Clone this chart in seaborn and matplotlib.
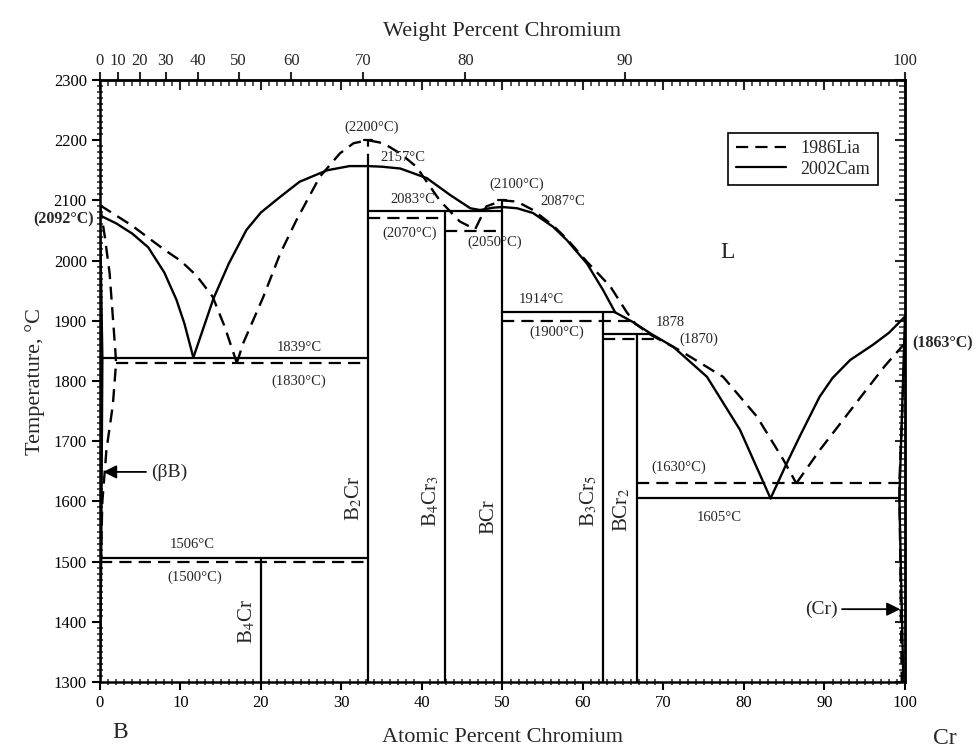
import numpy as np
import matplotlib
matplotlib.use("Agg")
import matplotlib.pyplot as plt
from matplotlib.lines import Line2D
from matplotlib.ticker import MultipleLocator
import seaborn as sns

# ---- data (at.% Cr, temperature in C) ----
# 2002Cam (solid lines)
cam_liq_b_x = [0, 2, 4, 6, 8, 9.5, 10.5, 11.6]
cam_liq_b_t = [2075, 2062, 2045, 2022, 1980, 1935, 1895, 1839]
cam_dome_x = [11.6, 14.1, 16, 18.2, 20, 22.4, 24.8, 28.2, 31, 33.3, 35, 37.3, 40.6,
              43.5, 46, 47.2, 48.9, 50, 51.8, 53.8, 56.3, 58, 60.5, 62.5, 64]
cam_dome_t = [1839, 1937, 1995, 2051, 2080, 2106, 2131, 2150, 2157, 2157, 2156, 2153, 2137,
              2109, 2087, 2084, 2088, 2089, 2087, 2079, 2056, 2034, 1995, 1951, 1914]
cam_liq_mid_x = [64, 66.2, 68.5, 71.2, 75.4, 79.5, 83.3]
cam_liq_mid_t = [1914, 1898, 1878, 1857, 1807, 1719, 1605]
cam_liq_cr_x = [83.3, 85.3, 87, 89.4, 91, 93.2, 96, 98, 100]
cam_liq_cr_t = [1605, 1663, 1710, 1774, 1805, 1835, 1860, 1880, 1907]
cam_bsolv_x = [0, 0.3, 0.15, 0]
cam_bsolv_t = [2075, 1839, 1506, 1300]
cam_crsolv_x = [100, 99.3, 99.8]
cam_crsolv_t = [1907, 1605, 1300]
cam_iso_t = [1839, 1506, 2083, 1914, 1878, 1605]
cam_iso_x0 = [0.3, 0, 33.33, 50, 62.5, 66.67]
cam_iso_x1 = [33.33, 33.33, 50, 64, 68.5, 99.3]

# 1986Lia (dashed lines)
lia_liq_b_x = [0, 4, 8, 10, 12, 14, 15.5, 17]
lia_liq_b_t = [2092, 2058, 2018, 2000, 1975, 1940, 1890, 1830]
lia_dome_x = [17, 17.8, 20.3, 22.4, 24.4, 27.3, 29.8, 31.5, 33.3, 35.2, 37.3, 39.3,
              42.2, 44.7, 46.6, 48, 50, 51.8, 53.8, 56.3, 58, 60.5, 63.4, 65.4,
              66.5, 68.5, 72, 77.4, 81.6, 84.9, 86.5]
lia_dome_t = [1830, 1863, 1940, 2012, 2067, 2139, 2178, 2195, 2200, 2195, 2178, 2156,
              2100, 2065, 2052, 2090, 2100, 2098, 2084, 2058, 2036, 1998, 1957, 1915,
              1895, 1876, 1851, 1807, 1741, 1669, 1630]
lia_liq_cr_x = [86.5, 89.4, 92, 95, 97.5, 100]
lia_liq_cr_t = [1630, 1685, 1730, 1782, 1825, 1863]
lia_bsolv_x = [0, 0.6, 1.2, 1.9, 2.0, 1.6, 0.8, 0.3, 0.1, 0]
lia_bsolv_t = [2092, 2040, 1979, 1852, 1830, 1760, 1685, 1600, 1500, 1300]
lia_crsolv_x = [100, 99.3, 99.6]
lia_crsolv_t = [1863, 1630, 1300]
lia_iso_t = [1830, 1500, 2070, 2050, 1900, 1870, 1630]
lia_iso_x0 = [2.0, 0, 33.33, 42.86, 50, 62.5, 66.67]
lia_iso_x1 = [33.33, 33.33, 42.86, 50, 65.8, 69, 99.3]
lia_max_x = [33.33, 50]
lia_max_lo = [2157, 2087]
lia_max_t = [2200, 2100]

# compounds
comp_names = [r"B$_4$Cr", r"B$_2$Cr", r"B$_4$Cr$_3$", "BCr", r"B$_3$Cr$_5$", r"BCr$_2$"]
comp_x = [20, 33.33, 42.86, 50, 62.5, 66.67]
comp_top = [1506, 2157, 2083, 2087, 1914, 1878]
comp_label_t = [1400, 1605, 1600, 1575, 1600, 1585]


def at2wt(x):
    x = np.asarray(x, dtype=float)
    return 100 * x * 52.0 / (x * 52.0 + (100 - x) * 10.81)


def wt2at(w):
    w = np.asarray(w, dtype=float)
    return 100 * (w / 52.0) / (w / 52.0 + (100 - w) / 10.81)


sns.set_style("ticks")
plt.rcParams['font.family'] = ['Liberation Serif', 'DejaVu Serif']
plt.rcParams['mathtext.fontset'] = 'stix'

fig = plt.figure(figsize=(9.79, 7.47), dpi=100)
ax = fig.add_axes([0.1021, 0.087, 0.8223, 0.8059])

SOLID = '-'
DASH = (0, (5.5, 3.2))


def draw(x, t, ls, lw=1.7):
    sns.lineplot(x=x, y=t, ax=ax, sort=False, estimator=None, color='black',
                 linewidth=lw, linestyle=ls)


for xs, ts in [(cam_liq_b_x, cam_liq_b_t), (cam_dome_x, cam_dome_t),
               (cam_liq_mid_x, cam_liq_mid_t), (cam_liq_cr_x, cam_liq_cr_t),
               (cam_bsolv_x, cam_bsolv_t), (cam_crsolv_x, cam_crsolv_t)]:
    draw(xs, ts, SOLID)
for xs, ts in [(lia_liq_b_x, lia_liq_b_t), (lia_dome_x, lia_dome_t),
               (lia_liq_cr_x, lia_liq_cr_t), (lia_bsolv_x, lia_bsolv_t),
               (lia_crsolv_x, lia_crsolv_t)]:
    draw(xs, ts, DASH)

for t, a, b in zip(cam_iso_t, cam_iso_x0, cam_iso_x1):
    draw([a, b], [t, t], SOLID, lw=1.6)
for t, a, b in zip(lia_iso_t, lia_iso_x0, lia_iso_x1):
    draw([a, b], [t, t], DASH, lw=1.6)

for x, top in zip(comp_x, comp_top):
    draw([x, x], [1300, top], SOLID, lw=1.6)
for x, lo, t in zip(lia_max_x, lia_max_lo, lia_max_t):
    draw([x, x], [lo, t], DASH, lw=1.6)
    draw([x - 0.5, x + 0.5], [t, t], SOLID, lw=1.6)

for name, x, t in zip(comp_names, comp_x, comp_label_t):
    ax.text(x - 0.5, t, name, rotation=90, ha='right', va='center', fontsize=15)

fs = 10.5
labels = [
    (33.8, 2222, "(2200°C)"), (37.6, 2172, "2157°C"), (38.9, 2102, "2083°C"),
    (38.5, 2046, "(2070°C)"), (49.0, 2030, "(2050°C)"), (51.8, 2127, "(2100°C)"),
    (57.5, 2099, "2087°C"), (54.8, 1935, "1914°C"), (56.8, 1881, "(1900°C)"),
    (70.8, 1898, "1878"), (74.4, 1870, "(1870)"), (24.7, 1856, "1839°C"),
    (24.7, 1800, "(1830°C)"), (11.4, 1528, "1506°C"), (11.8, 1474, "(1500°C)"),
    (71.9, 1657, "(1630°C)"), (76.9, 1574, "1605°C"),
]
for x, t, s in labels:
    ax.text(x, t, s, ha='center', va='center', fontsize=fs)
ax.text(77.9, 2013, "L", ha='center', va='center', fontsize=17)
ax.text(-0.7, 2069, "(2092°C)", ha='right', va='center', fontsize=11.5, fontweight='bold')
ax.text(100.9, 1863, "(1863°C)", ha='left', va='center', fontsize=11.5, fontweight='bold')

ax.annotate("(βB)", xy=(0.4, 1649), xytext=(6.3, 1649), ha='left', va='center',
            fontsize=14, arrowprops=dict(arrowstyle='-|>', color='black', lw=1.3,
                                         mutation_scale=20, shrinkA=1, shrinkB=0))
ax.annotate("(Cr)", xy=(99.4, 1421), xytext=(91.6, 1421), ha='right', va='center',
            fontsize=14, arrowprops=dict(arrowstyle='-|>', color='black', lw=1.3,
                                         mutation_scale=20, shrinkA=1, shrinkB=0))

ax.set_xlim(0, 100)
ax.set_ylim(1300, 2300)
ax.set_xticks(range(0, 101, 10))
ax.set_yticks(range(1300, 2301, 100))
ax.xaxis.set_minor_locator(MultipleLocator(1))
ax.yaxis.set_minor_locator(MultipleLocator(10))
ax.tick_params(which='major', direction='out', length=6, width=1.5, labelsize=12,
               colors='black')
ax.tick_params(which='minor', direction='inout', length=5, width=1.1)
for sp in ax.spines.values():
    sp.set_visible(True)
    sp.set_linewidth(1.8)
    sp.set_color('black')

# mirrored inward ticks on top and right
top = ax.secondary_xaxis('top')
top.set_xticks(range(0, 101, 10), labels=[])
top.xaxis.set_minor_locator(MultipleLocator(1))
top.tick_params(which='major', direction='in', length=7, width=1.5)
top.tick_params(which='minor', direction='in', length=4, width=1.1)
right = ax.secondary_yaxis('right')
right.set_yticks(range(1300, 2301, 100), labels=[])
right.yaxis.set_minor_locator(MultipleLocator(10))
right.tick_params(which='major', direction='in', length=7, width=1.5)
right.tick_params(which='minor', direction='in', length=4, width=1.1)
right.spines['right'].set_linewidth(1.8)
top.spines['top'].set_linewidth(1.8)

# weight percent axis
wt = ax.secondary_xaxis('top', functions=(at2wt, wt2at))
wt.set_xticks(range(0, 101, 10))
wt.tick_params(which='major', direction='out', length=6, width=1.5, labelsize=12, pad=2)
wt.set_xlabel("Weight Percent Chromium", fontsize=16, labelpad=12)

ax.set_xlabel("Atomic Percent Chromium", fontsize=16, labelpad=12)
ax.set_ylabel("Temperature, °C", fontsize=16, labelpad=6)
fig.text(0.1226, 0.019, "B", ha='center', va='center', fontsize=17)
fig.text(0.965, 0.012, "Cr", ha='center', va='center', fontsize=17)

handles = [Line2D([], [], color='black', lw=1.6, linestyle=DASH),
           Line2D([], [], color='black', lw=1.6, linestyle=SOLID)]
leg = ax.legend(handles, ["1986Lia", "2002Cam"], loc='upper right',
                bbox_to_anchor=(0.966, 0.912), fontsize=13, frameon=True,
                fancybox=False, framealpha=1, edgecolor='black', borderpad=0.4,
                handlelength=2.8, labelspacing=0.2, borderaxespad=0)
leg.get_frame().set_linewidth(1.2)

fig.savefig("out.png", dpi=100)
